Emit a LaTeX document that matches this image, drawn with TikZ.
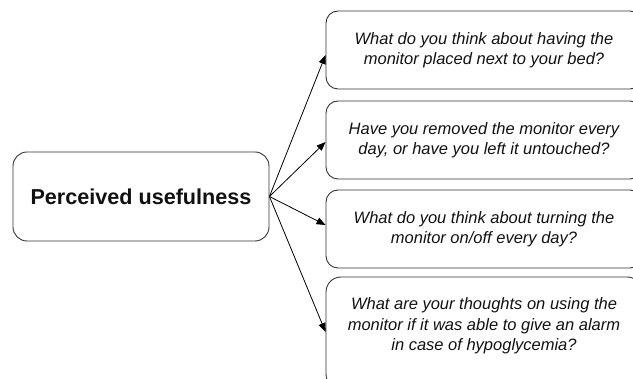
\documentclass[tikz,border=0pt]{standalone}
\usepackage{fontspec}
\setmainfont{Liberation Sans}
\usetikzlibrary{arrows.meta}
\definecolor{boxline}{HTML}{333333}
\definecolor{txt}{HTML}{111111}
\tikzset{
  qbox/.style={draw=boxline, line width=0.9pt, rounded corners=12pt, minimum width=316pt, minimum height=78pt, align=center, text=txt,
    font=\fontsize{16.5pt}{20.5pt}\selectfont\itshape, inner sep=0pt},
  mainbox/.style={draw=boxline, line width=0.9pt, rounded corners=14pt, minimum width=256pt, minimum height=89pt, align=center, text=txt,
    font=\fontsize{21.6pt}{25pt}\selectfont\bfseries, inner sep=0pt},
  conn/.style={draw=black, line width=0.8pt, -{Triangle[length=9pt,width=7pt]}}
}
\begin{document}
\begin{tikzpicture}[x=1pt,y=-1pt]
\useasboundingbox (0,0) rectangle (633,379);
\clip (0,0) rectangle (633,379);
\node[mainbox] (lb) at (141,196.5) {Perceived usefulness};
\node[qbox] (b1) at (484,50) {What do you think about having the\\monitor placed next to your bed?};
\node[qbox] (b2) at (484,140) {Have you removed the monitor every\\day, or have you left it untouched?};
\node[qbox] (b3) at (484,229) {What do you think about turning the\\monitor on/off every day?};
\node[qbox, minimum height=112pt, rounded corners=15pt] (b4) at (484,333) {What are your thoughts on using the\\monitor if it was able to give an alarm\\in case of hypoglycemia?\\[-3pt]\mbox{}};
\draw[conn] (lb.east) -- ([yshift=-5pt]b1.west);
\draw[conn] (lb.east) -- ([yshift=-2pt]b2.west);
\draw[conn] (lb.east) -- ([yshift=4pt]b3.west);
\draw[conn] (lb.east) -- ([yshift=1pt]b4.west);
\end{tikzpicture}
\end{document}
